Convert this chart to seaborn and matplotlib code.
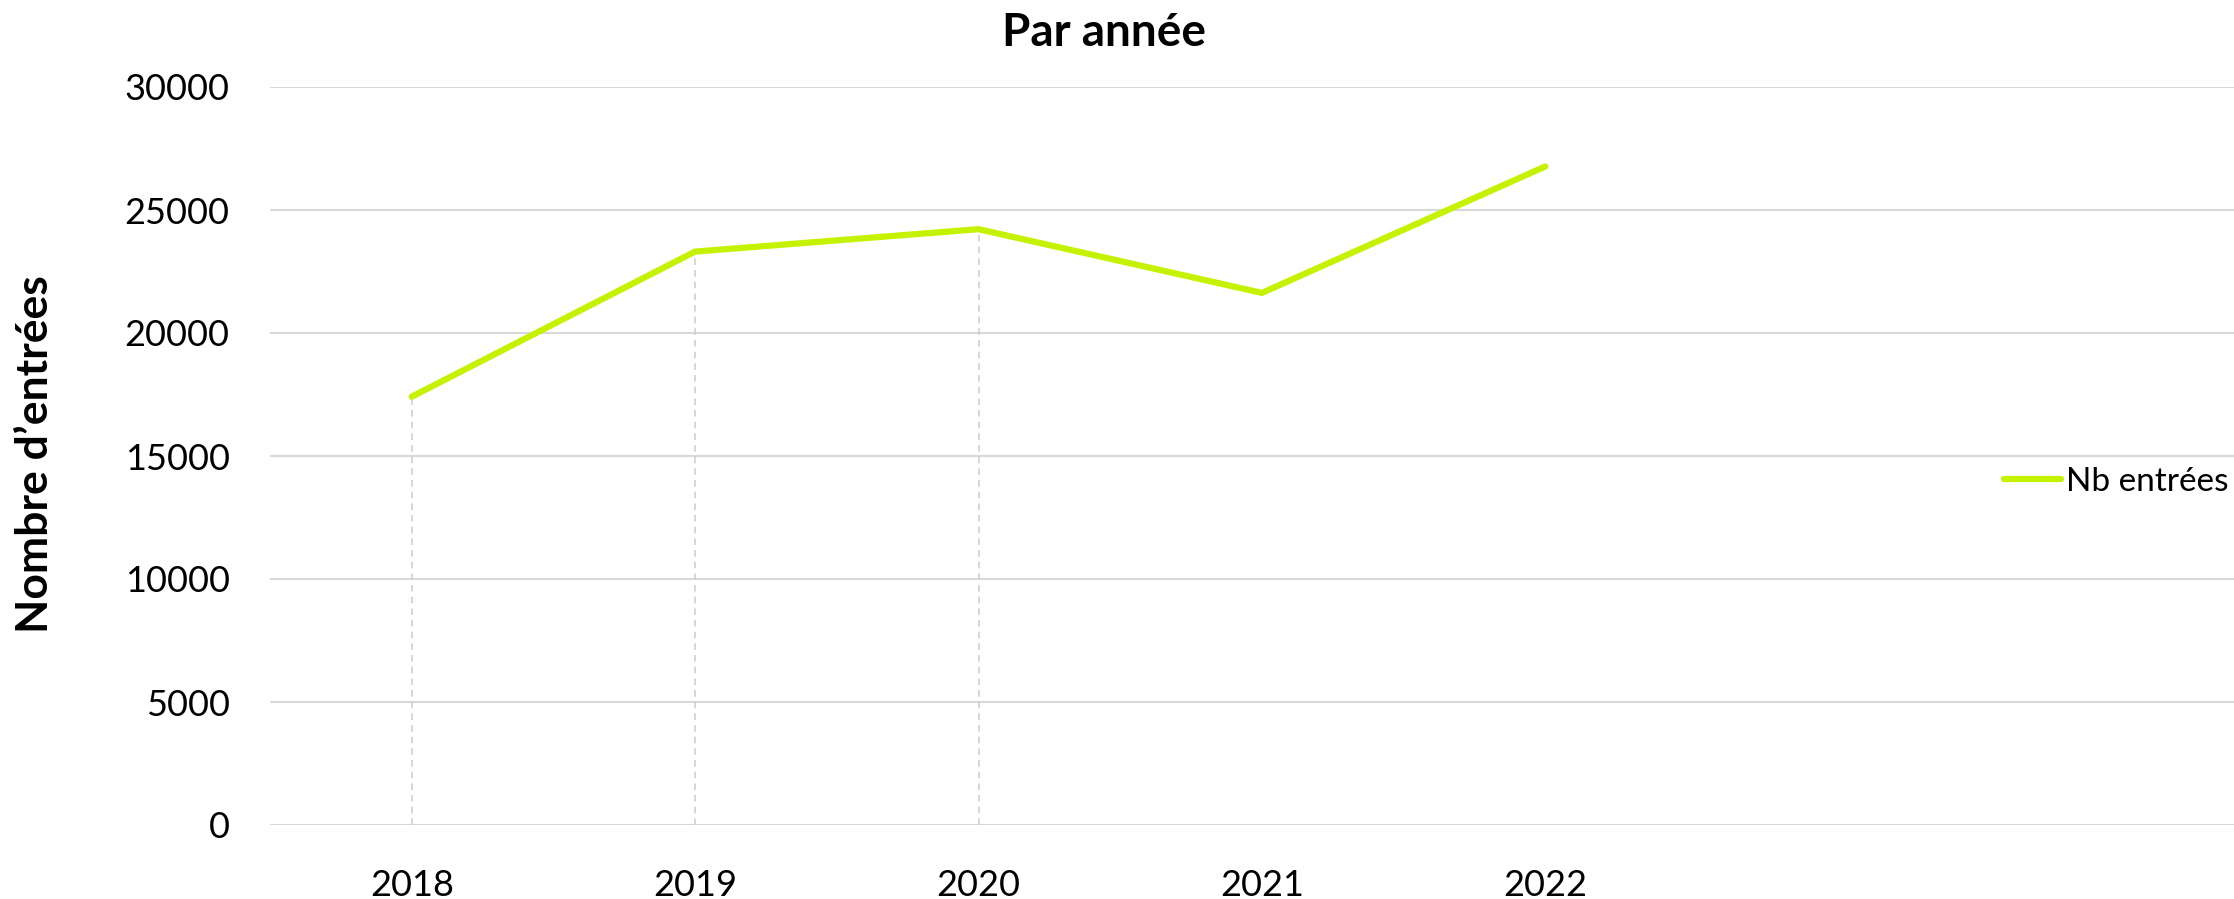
"""Nombre d'entrées par année"""

import matplotlib
matplotlib.use("Agg")
import matplotlib.pyplot as plt
import seaborn as sns
import numpy as np
import pandas as pd

years = ["2018", "2019", "2020", "2021", "2022"]
nb_entrees = [17410, 23310, 24220, 21630, 26770]
drop_years = ["2018", "2019", "2020"]  # drop lines shown in the original
y_ticks = [0, 5000, 10000, 15000, 20000, 25000, 30000]

LINE_COLOR = "#c5f200"
GRID_COLOR = "#d9d9d9"

sns.set_theme(style="white")
plt.rcParams["font.family"] = ["Lato", "DejaVu Sans"]
plt.rcParams["text.color"] = "black"

df = pd.DataFrame({"annee": years, "Nb entrées": nb_entrees})

fig = plt.figure(figsize=(22.34, 8.99), dpi=100)
ax = fig.add_axes([270 / 2234, 1 - 825 / 899, 1 - 270 / 2234, (825 - 87) / 899])

# Drop lines (dashed, light grey)
pos = {y: i for i, y in enumerate(years)}
for y in drop_years:
    ax.vlines(pos[y], 0, nb_entrees[pos[y]], colors="#cfcfcf",
              linestyles=(0, (4, 3)), linewidth=1.2, zorder=1)

sns.lineplot(data=df, x="annee", y="Nb entrées", ax=ax, color=LINE_COLOR,
             linewidth=4.5, solid_capstyle="round", solid_joinstyle="round",
             label="Nb entrées", legend=False, zorder=3)

ax.set_xlim(-0.5, 6.43)
ax.set_ylim(0, 30000)
ax.set_yticks(y_ticks)
ax.set_yticklabels([str(v) for v in y_ticks])
ax.set_xticks(range(len(years)))
ax.set_xticklabels(years)
ax.yaxis.grid(True, color=GRID_COLOR, linewidth=1.5)
ax.xaxis.grid(False)
ax.set_axisbelow(True)
for s in ax.spines.values():
    s.set_visible(False)
ax.tick_params(axis="both", length=0, labelsize=26, colors="black")
ax.tick_params(axis="y", pad=29)
ax.tick_params(axis="x", pad=32)
ax.set_xlabel("")
ax.set_ylabel("")

fig.text(1104 / 2234, 1 - 33 / 899, "Par année", ha="center", va="center",
         fontsize=33, fontweight="bold", color="black")
fig.text(35 / 2234, 1 - 454 / 899, "Nombre d\u2019entrées", ha="center",
         va="center", rotation=90, fontsize=32, fontweight="bold",
         color="black")

handles, labels = ax.get_legend_handles_labels()
fig.legend(handles, labels, loc="center right",
           bbox_to_anchor=(2228 / 2234, 1 - 482 / 899), frameon=False,
           fontsize=24, borderaxespad=0, borderpad=0, handlelength=1.7,
           handletextpad=0.15, labelcolor="black")

fig.savefig("out.png", dpi=100)
